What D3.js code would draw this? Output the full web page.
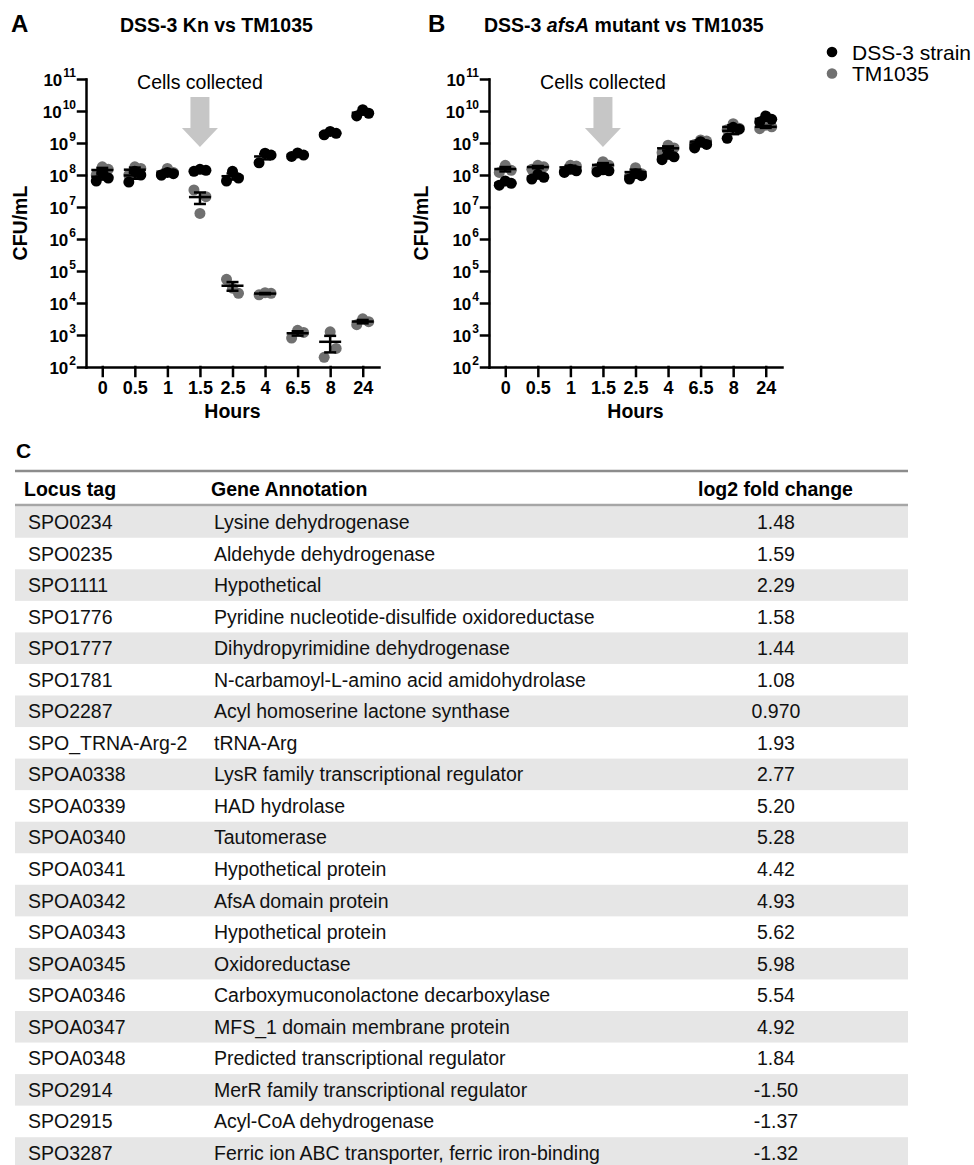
<!DOCTYPE html>
<html>
<head>
<meta charset="utf-8">
<script src="https://cdn.jsdelivr.net/npm/d3@7"></script>
<style>
  body { margin: 0; background: #fff; }
  svg text { font-family: "Liberation Sans", Arial, Helvetica, sans-serif; }
</style>
</head>
<body>
<svg id="fig" width="974" height="1165"></svg>
<script>
(function() {

  // ---- growth data (CFU/mL, three replicates per time point) ----
  var hours = ["0", "0.5", "1", "1.5", "2.5", "4", "6.5", "8", "24"];

  var kn_dss3 = [
    [6.5e7, 8.0e7, 1.2e8],
    [6.0e7, 1.0e8, 1.3e8],
    [1.0e8, 1.1e8, 1.2e8],
    [1.3e8, 1.4e8, 1.5e8],
    [6.5e7, 8.0e7, 1.3e8],
    [2.4e8, 4.2e8, 4.8e8],
    [3.8e8, 4.2e8, 4.9e8],
    [1.8e9, 2.0e9, 2.3e9],
    [7.0e9, 8.5e9, 1.1e10]
  ];
  var kn_tm1035 = [
    [1.0e8, 1.5e8, 1.8e8],
    [1.0e8, 1.6e8, 1.8e8],
    [1.0e8, 1.2e8, 1.6e8],
    [3.4e7, 2.1e7, 6.3e6],
    [5.5e4, 2.0e4, 2.9e4],
    [1.8e4, 2.0e4, 2.1e4],
    [8.0e2, 1.2e3, 1.4e3],
    [2.0e2, 3.8e2, 1.26e3],
    [2.1e3, 2.6e3, 3.2e3]
  ];
  var afsA_dss3 = [
    [4.8e7, 5.5e7, 6.5e7],
    [7.5e7, 8.5e7, 1.05e8],
    [1.2e8, 1.35e8, 1.5e8],
    [1.25e8, 1.35e8, 1.45e8],
    [7.5e7, 9.5e7, 1.1e8],
    [3.0e8, 3.7e8, 4.5e8],
    [7.0e8, 9.0e8, 1.1e9],
    [1.4e9, 2.7e9, 3.1e9],
    [4.5e9, 5.5e9, 7.0e9]
  ];
  var afsA_tm1035 = [
    [1.2e8, 1.4e8, 2.0e8],
    [1.5e8, 1.8e8, 2.0e8],
    [1.3e8, 1.9e8, 2.0e8],
    [1.6e8, 2.0e8, 2.6e8],
    [9.0e7, 1.1e8, 1.7e8],
    [5.0e8, 7.0e8, 8.5e8],
    [9.0e8, 1.15e9, 1.25e9],
    [2.6e9, 2.9e9, 4.0e9],
    [2.8e9, 3.2e9, 3.6e9]
  ];
  var yTicks = [1e2, 1e3, 1e4, 1e5, 1e6, 1e7, 1e8, 1e9, 1e10, 1e11];
  var legendLabels = ["DSS-3 strain", "TM1035"];
  var collectedAt = "1.5";

  // ---- table data ----
  var locusTags = ["SPO0234", "SPO0235", "SPO1111", "SPO1776", "SPO1777", "SPO1781", "SPO2287",
    "SPO_TRNA-Arg-2", "SPOA0338", "SPOA0339", "SPOA0340", "SPOA0341", "SPOA0342", "SPOA0343",
    "SPOA0345", "SPOA0346", "SPOA0347", "SPOA0348", "SPO2914", "SPO2915", "SPO3287"];
  var annotations = ["Lysine dehydrogenase", "Aldehyde dehydrogenase", "Hypothetical",
    "Pyridine nucleotide-disulfide oxidoreductase", "Dihydropyrimidine dehydrogenase",
    "N-carbamoyl-L-amino acid amidohydrolase", "Acyl homoserine lactone synthase", "tRNA-Arg",
    "LysR family transcriptional regulator", "HAD hydrolase", "Tautomerase", "Hypothetical protein",
    "AfsA domain protein", "Hypothetical protein", "Oxidoreductase",
    "Carboxymuconolactone decarboxylase", "MFS_1 domain membrane protein",
    "Predicted transcriptional regulator", "MerR family transcriptional regulator",
    "Acyl-CoA dehydrogenase", "Ferric ion ABC transporter, ferric iron-binding"];
  var foldChanges = [1.48, 1.59, 2.29, 1.58, 1.44, 1.08, 0.970, 1.93, 2.77, 5.20, 5.28, 4.42,
    4.93, 5.62, 5.98, 5.54, 4.92, 1.84, -1.50, -1.37, -1.32];
  var headers = ["Locus tag", "Gene Annotation", "log2 fold change"];

  var BLACK = "#000", GREY = "#707070";
  var svg = d3.select("#fig");

  var y = d3.scaleLog().domain([1e2, 1e11]).range([367, 79]);
  var jitter = [-6, 6, 0];

  function meanSem(vals) {
    var m = d3.mean(vals);
    var sem = d3.deviation(vals) / Math.sqrt(vals.length);
    return {mean: m, lo: m - sem, hi: m + sem};
  }

  function drawPanel(left, dss, tm, titleParts, letter, letterX, titleX, labelX) {
    var x = d3.scalePoint().domain(hours).range([left, left + 293]).padding(0.5);
    var g = svg.append("g");

    // panel letter + title
    svg.append("text").attr("x", letterX).attr("y", 32)
      .attr("font-size", 24).attr("font-weight", "bold").text(letter);
    var t = svg.append("text").attr("x", titleX).attr("y", 32)
      .attr("font-size", 19.5).attr("font-weight", "bold");
    titleParts.forEach(function(p) {
      t.append("tspan").attr("font-style", p[1] ? "italic" : "normal").text(p[0]);
    });

    // arrow
    var cx = x(collectedAt);
    g.append("path")
      .attr("d", "M" + (cx - 9.5) + ",97H" + (cx + 9.5) + "V128H" + (cx + 18) + "L" + cx +
        ",147L" + (cx - 18) + ",128H" + (cx - 9.5) + "Z")
      .attr("fill", "#c6c6c6");
    g.append("text").attr("x", cx).attr("y", 89).attr("text-anchor", "middle")
      .attr("font-size", 19.5).text("Cells collected");

    // axes
    var ya = g.append("g").attr("transform", "translate(" + left + ",0)")
      .call(d3.axisLeft(y).tickValues(yTicks).tickSize(8).tickSizeOuter(0).tickPadding(2));
    ya.selectAll(".tick text").each(function(d) {
      var s = d3.select(this);
      s.text("10").attr("font-size", 17).attr("font-weight", "bold").attr("fill", "#000")
        .attr("font-family", null).attr("dy", "0.36em");
      s.append("tspan").attr("font-size", 12).attr("dx", 1).attr("dy", "-0.75em")
        .text(Math.round(Math.log10(d)));
    });

    var xa = g.append("g").attr("transform", "translate(0,367)")
      .call(d3.axisBottom(x).tickSize(9).tickSizeOuter(0).tickPadding(5));
    xa.selectAll(".tick text").attr("font-size", 18).attr("font-weight", "bold")
      .attr("fill", "#000").attr("font-family", null);

    g.selectAll(".domain, .tick line").attr("stroke", "#000").attr("stroke-width", 2.5)
      .attr("stroke-linecap", "square");
    g.selectAll("g").attr("font-family", null);

    g.append("text").attr("x", left + 146.5).attr("y", 418).attr("text-anchor", "middle")
      .attr("font-size", 19.5).attr("font-weight", "bold").text("Hours");
    g.append("text").attr("transform", "translate(" + labelX + ",223) rotate(-90)")
      .attr("text-anchor", "middle").attr("font-size", 19.5).attr("font-weight", "bold")
      .text("CFU/mL");

    // points
    [[tm, GREY], [dss, BLACK]].forEach(function(s) {
      s[0].forEach(function(vals, i) {
        g.selectAll(null).data(vals).enter().append("circle")
          .attr("cx", function(v, j) { return x(hours[i]) + jitter[j]; })
          .attr("cy", function(v) { return y(v); })
          .attr("r", 5.5)
          .attr("fill", s[1]);
      });
    });

    // mean + SEM
    [tm, dss].forEach(function(series) {
      series.forEach(function(vals, i) {
        var st = meanSem(vals), px = x(hours[i]);
        var e = g.append("g").attr("stroke", "#000").attr("stroke-width", 2.5);
        e.append("line").attr("x1", px - 11).attr("x2", px + 11)
          .attr("y1", y(st.mean)).attr("y2", y(st.mean));
        e.append("line").attr("x1", px).attr("x2", px)
          .attr("y1", y(st.lo)).attr("y2", y(st.hi));
        e.append("line").attr("x1", px - 6).attr("x2", px + 6)
          .attr("y1", y(st.lo)).attr("y2", y(st.lo));
        e.append("line").attr("x1", px - 6).attr("x2", px + 6)
          .attr("y1", y(st.hi)).attr("y2", y(st.hi));
      });
    });
  }

  drawPanel(86, kn_dss3, kn_tm1035, [["DSS-3 Kn vs TM1035", false]], "A", 11, 120, 27);
  drawPanel(489, afsA_dss3, afsA_tm1035,
    [["DSS-3 ", false], ["afsA", true], [" mutant vs TM1035", false]], "B", 428, 484, 428);

  // legend
  var leg = svg.append("g");
  leg.selectAll("circle").data(legendLabels).enter().append("circle")
    .attr("cx", 832).attr("cy", function(d, i) { return 52 + i * 21.5; })
    .attr("r", 5.3).attr("fill", function(d, i) { return i ? GREY : BLACK; });
  leg.selectAll("text").data(legendLabels).enter().append("text")
    .attr("x", 852).attr("y", function(d, i) { return 59.5 + i * 21.5; })
    .attr("font-size", 21).text(function(d) { return d; });

  // ---- table C ----
  svg.append("text").attr("x", 16).attr("y", 458).attr("font-size", 21)
    .attr("font-weight", "bold").text("C");

  var rowY = d3.scaleBand().domain(d3.range(locusTags.length))
    .range([506.2, 506.2 + locusTags.length * 31.55]);
  var colX = [28, 214, 776];
  var fmt = function(v) { return v.toPrecision(3); };

  var rows = svg.append("g").selectAll("g").data(locusTags).enter().append("g")
    .attr("transform", function(d, i) { return "translate(0," + rowY(i) + ")"; });
  rows.filter(function(d, i) { return i % 2 === 0; }).append("rect")
    .attr("x", 15).attr("width", 893).attr("height", rowY.bandwidth()).attr("fill", "#e6e6e6");
  var mid = rowY.bandwidth() / 2 + 7;
  rows.append("text").attr("x", colX[0]).attr("y", mid).attr("font-size", 19.5)
    .attr("fill", "#111").text(function(d) { return d; });
  rows.append("text").attr("x", colX[1]).attr("y", mid).attr("font-size", 19.5)
    .attr("fill", "#111").text(function(d, i) { return annotations[i]; });
  rows.append("text").attr("x", colX[2]).attr("y", mid).attr("font-size", 19.5)
    .attr("text-anchor", "middle").attr("fill", "#111")
    .text(function(d, i) { return fmt(foldChanges[i]); });

  svg.append("line").attr("x1", 15).attr("x2", 908).attr("y1", 471).attr("y2", 471)
    .attr("stroke", "#8c8c8c").attr("stroke-width", 2.5);
  svg.append("line").attr("x1", 15).attr("x2", 908).attr("y1", 505).attr("y2", 505)
    .attr("stroke", "#a6a6a6").attr("stroke-width", 2.5);

  svg.append("g").selectAll("text").data(headers).enter().append("text")
    .attr("x", function(d, i) { return [24, 211, 775.5][i]; })
    .attr("y", 496)
    .attr("text-anchor", function(d, i) { return i === 2 ? "middle" : "start"; })
    .attr("font-size", 19.5).attr("font-weight", "bold")
    .text(function(d) { return d; });

})();
</script>
</body>
</html>
